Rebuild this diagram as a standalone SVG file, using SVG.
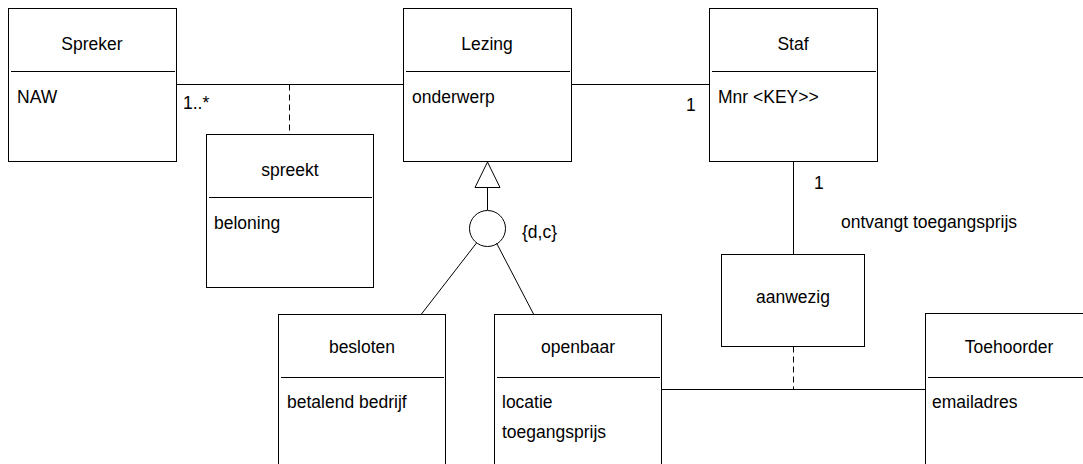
<svg xmlns="http://www.w3.org/2000/svg" width="1083" height="464" viewBox="0 0 1083 464">
<style>
rect{fill:#fff;stroke:#000;stroke-width:1}
line,path,circle,polygon{stroke:#000;stroke-width:1;fill:none}
.dash{stroke-dasharray:6,4}
text{font-family:"Liberation Sans",Arial,sans-serif;font-size:17.5px;fill:#000}
.c{text-anchor:middle}
</style>
<rect width="1083" height="464" style="fill:#fff;stroke:none"/>
<g id="connectors">
<line x1="176.5" y1="84.5" x2="403.5" y2="84.5"/>
<line class="dash" x1="289.5" y1="84.5" x2="289.5" y2="134.5"/>
<line x1="571.5" y1="84.5" x2="709.5" y2="84.5"/>
<polygon points="487.5,162 475,187.5 500,187.5" style="fill:#fff"/>
<line x1="487.5" y1="187.5" x2="487.5" y2="210"/>
<circle cx="487.5" cy="228.5" r="18" style="fill:#fff"/>
<line x1="476.5" y1="243" x2="421.5" y2="314"/>
<line x1="496.5" y1="243" x2="533.5" y2="314"/>
<line x1="793.5" y1="161.5" x2="793.5" y2="254.5"/>
<line class="dash" x1="793.5" y1="346.5" x2="793.5" y2="389.5"/>
<line x1="661.5" y1="389.5" x2="925.5" y2="389.5"/>
<text x="183" y="109">1..*</text>
<text x="686" y="111">1</text>
<text x="522" y="238">{d,c}</text>
<text x="814" y="189">1</text>
<text x="841" y="228">ontvangt toegangsprijs</text>
</g>
<g id="spreker">
<rect x="8.5" y="8.5" width="168" height="153"/>
<line x1="11" y1="71.5" x2="175" y2="71.5"/>
<text class="c" x="92" y="50">Spreker</text>
<text x="17" y="103">NAW</text>
</g>
<g id="lezing">
<rect x="403.5" y="8.5" width="168" height="153"/>
<line x1="406" y1="71.5" x2="570" y2="71.5"/>
<text class="c" x="487" y="50">Lezing</text>
<text x="412" y="103">onderwerp</text>
</g>
<g id="staf">
<rect x="709.5" y="8.5" width="168" height="153"/>
<line x1="712" y1="71.5" x2="876" y2="71.5"/>
<text class="c" x="793" y="50">Staf</text>
<text x="718" y="103">Mnr &lt;KEY&gt;&gt;</text>
</g>
<g id="spreekt">
<rect x="206.5" y="134.5" width="167" height="153"/>
<line x1="209" y1="197.5" x2="372" y2="197.5"/>
<text class="c" x="290" y="176">spreekt</text>
<text x="214" y="229">beloning</text>
</g>
<g id="aanwezig">
<rect x="721.5" y="254.5" width="143" height="92"/>
<text class="c" x="793" y="303">aanwezig</text>
</g>
<g id="besloten">
<rect x="278.5" y="314.5" width="167" height="153"/>
<line x1="281" y1="377.5" x2="444" y2="377.5"/>
<text class="c" x="362" y="353">besloten</text>
<text x="287" y="408">betalend bedrijf</text>
</g>
<g id="openbaar">
<rect x="494.5" y="314.5" width="167" height="153"/>
<line x1="497" y1="377.5" x2="660" y2="377.5"/>
<text class="c" x="578" y="353">openbaar</text>
<text x="502" y="408">locatie</text>
<text x="502" y="438">toegangsprijs</text>
</g>
<g id="toehoorder">
<rect x="925.5" y="313.5" width="167" height="153"/>
<line x1="928" y1="377.5" x2="1091" y2="377.5"/>
<text class="c" x="1009" y="353">Toehoorder</text>
<text x="932" y="408">emailadres</text>
</g>
</svg>
